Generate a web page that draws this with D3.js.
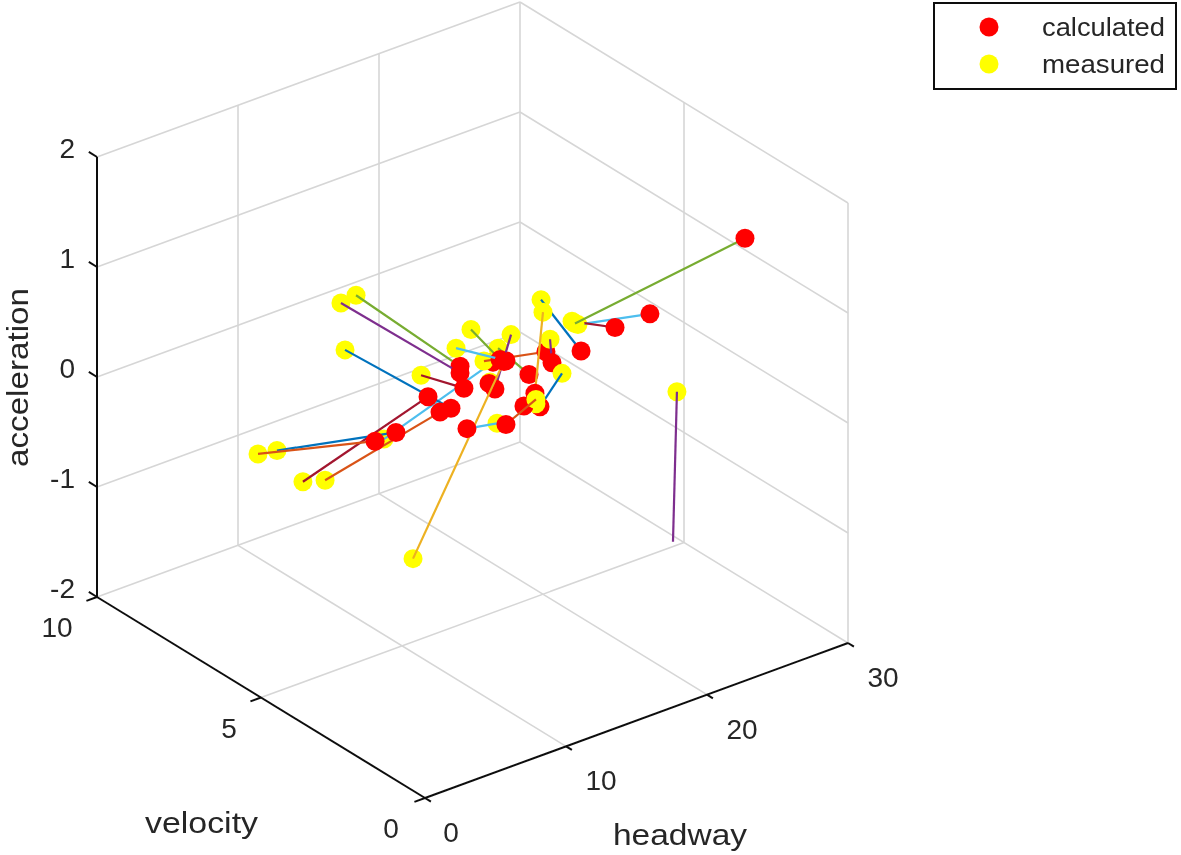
<!DOCTYPE html>
<html>
<head>
<meta charset="utf-8">
<script src="https://cdnjs.cloudflare.com/ajax/libs/d3/7.8.5/d3.min.js"></script>
<style>
    body { margin: 0; background: #fff; }
    svg { display: block; }
    text { font-family: "Liberation Sans", Arial, sans-serif; fill: #262626; }
</style>
</head>
<body>
<svg></svg>
<script>
// Values, one entry per measured/calculated pair
const measuredHeadway = [8.72, 11.16, 12.16, 6.74, 5.67, 5.96, 6.70, 5.30, 6.87, 3.46, 4.44, 11.59, 10.24, 9.18, 13.08, 6.13, 12.09, 12.88, 13.52, 14.37, 15.50, 15.08, 15.29, 13.02, 12.52, 12.52, 22.52];
const measuredVelocity = [5, 3, 3, 5, 5, 5, 3, 6, 6, 6, 7, 3, 3, 3, 3, 3, 3, 2, 2, 2, 2, 2, 2, 2, 2, 2, 2];
const measuredAccel = [-0.06, 0.90, 0.97, 1.34, 1.32, 0.88, 0.98, -0.47, -0.53, -0.10, -0.36, 0.69, 1.23, 1.11, 1.05, -0.66, 0.29, 1.56, 1.17, 0.82, 1.21, 1.26, 1.23, 1.44, 0.63, 0.67, 0.27];

const calculatedHeadway = [11.80, 13.23, 12.03, 11.79, 11.79, 8.82, 9.74, 9.52, 10.37, 9.57, 8.09, 11.52, 12.30, 12.72, 11.94, 12.58, 12.28, 15.72, 13.66, 12.81, 18.28, 18.13, 25.02, 12.45, 11.67, 12.72, 22.24];
const calculatedVelocity = [3, 2, 2, 4, 4, 3, 3, 4, 4, 5, 5, 3, 3, 3, 3, 3, 4, 2, 2, 2, 1, 2, 1, 2, 2, 3, 2];
const calculatedAccel = [0.86, 1.07, 0.92, 0.64, 0.58, 0.58, 0.72, 0.47, 0.29, -0.04, -0.05, 0.68, 0.86, 0.83, 0.61, 0.83, 0.05, 0.96, 0.95, 0.59, 1.36, 1.06, 1.73, 0.73, 0.65, 0.25, -1.08];

// Which colour of the line order each pair's connector uses
const pairSeries = [5, 1, 4, 4, 3, 0, 6, 6, 1, 0, 1, 0, 4, 5, 3, 2, 5, 0, 3, 0, 5, 6, 4, 2, 1, 1, 3];
// This pair has a connector but no red marker in the picture
const pairsWithoutCalculated = [26];

const headwayTicks = [0, 10, 20, 30];
const velocityTicks = [0, 5, 10];
const accelTicks = [-2, -1, 0, 1, 2];
const legendLabels = ["calculated", "measured"];

const lineColors = ["#0072BD", "#D95319", "#EDB120", "#7E2F8E", "#77AC30", "#4DBEEE", "#A2142F"];
const markerColors = ["#ff0000", "#ffff00"];

const width = 1181;
const height = 855;
const originX = 425;
const originY = 798;
const markerRadius = 9.5;

const svg = d3.select("svg").attr("width", width).attr("height", height);

// The reference is a slightly soft, upscaled bitmap
svg.append("defs").append("filter")
    .attr("id", "soft")
    .attr("filterUnits", "userSpaceOnUse")
    .attr("x", 0).attr("y", 0)
    .attr("width", width).attr("height", height)
    .append("feGaussianBlur")
    .attr("stdDeviation", 0.55);

const root = svg.append("g").attr("filter", "url(#soft)");

// Orthographic projection: each data axis adds a screen x and a screen y offset
const headwayX = d3.scaleLinear().domain([0, 30]).range([0, 423]);
const headwayY = d3.scaleLinear().domain([0, 30]).range([0, -155]);
const velocityX = d3.scaleLinear().domain([0, 10]).range([0, -328]);
const velocityY = d3.scaleLinear().domain([0, 10]).range([0, -201]);
const accelY = d3.scaleLinear().domain([-2, 2]).range([0, -440]);

function project(h, v, a) {
    return [
        originX + headwayX(h) + velocityX(v),
        originY + headwayY(h) + velocityY(v) + accelY(a)
    ];
}

const seriesColor = d3.scaleOrdinal().domain(d3.range(lineColors.length)).range(lineColors);
const line3d = d3.line();

const grid = root.append("g")
    .attr("fill", "none")
    .attr("stroke", "#d6d6d6")
    .attr("stroke-width", 1.6);

function gridLine(points) {
    grid.append("path").attr("d", line3d(points.map(p => project(p[0], p[1], p[2]))));
}

// Back wall at velocity 10 and side wall at headway 30, then the floor
headwayTicks.forEach(h => {
    if (h > 0) gridLine([[h, 10, -2], [h, 10, 2]]);
    if (h > 0 && h < 30) gridLine([[h, 0, -2], [h, 10, -2]]);
});
velocityTicks.forEach(v => {
    if (v < 10) gridLine([[30, v, -2], [30, v, 2]]);
    if (v > 0 && v < 10) gridLine([[0, v, -2], [30, v, -2]]);
});
accelTicks.forEach(a => {
    gridLine([[0, 10, a], [30, 10, a]]);
    gridLine([[30, 10, a], [30, 0, a]]);
});

// Axes
const axes = root.append("g")
    .attr("fill", "none")
    .attr("stroke", "#111")
    .attr("stroke-width", 2);

function axisLine(points) {
    axes.append("path").attr("d", line3d(points.map(p => project(p[0], p[1], p[2]))));
}

axisLine([[0, 0, -2], [30, 0, -2]]);
axisLine([[0, 0, -2], [0, 10, -2]]);
axisLine([[0, 10, -2], [0, 10, 2]]);

headwayTicks.forEach(h => axisLine([[h, 0, -2], [h, -0.18, -2]]));
velocityTicks.forEach(v => axisLine([[0, v, -2], [-0.75, v, -2]]));
accelTicks.forEach(a => axisLine([[0, 10, a], [0, 10.25, a]]));

const tickFont = 28;

function tickLabel(pos, dx, dy, txt) {
    root.append("text")
        .attr("x", pos[0] + dx)
        .attr("y", pos[1] + dy)
        .attr("text-anchor", "middle")
        .attr("font-size", tickFont)
        .text(txt);
}

headwayTicks.forEach(h => tickLabel(project(h, 0, -2), h === 0 ? 26 : 35, 44, h));
velocityTicks.forEach(v => tickLabel(project(0, v, -2), v === 10 ? -40 : (v === 0 ? -34 : -32), 40, v));
accelTicks.forEach(a => {
    root.append("text")
        .attr("x", project(0, 10, a)[0] - 22)
        .attr("y", project(0, 10, a)[1] + 1)
        .attr("text-anchor", "end")
        .attr("font-size", tickFont)
        .text(a);
});

// Pairs are stacked in order: measured marker, connector, calculated marker
const pairs = root.append("g");

measuredHeadway.forEach((h, i) => {
    const m = project(h, measuredVelocity[i], measuredAccel[i]);
    const c = project(calculatedHeadway[i], calculatedVelocity[i], calculatedAccel[i]);
    const pair = pairs.append("g");

    pair.append("circle")
        .attr("cx", m[0]).attr("cy", m[1]).attr("r", markerRadius)
        .attr("fill", markerColors[1]);

    pair.append("path")
        .attr("d", line3d([m, c]))
        .attr("fill", "none")
        .attr("stroke", seriesColor(pairSeries[i]))
        .attr("stroke-width", 2.2);

    if (!pairsWithoutCalculated.includes(i)) {
        pair.append("circle")
            .attr("cx", c[0]).attr("cy", c[1]).attr("r", markerRadius)
            .attr("fill", markerColors[0]);
    }
});

// Axis titles (the reference text is stretched sideways, hence textLength)
function stretchedText(parent, txt, size, len) {
    return parent.append("text")
        .attr("font-size", size)
        .attr("textLength", len)
        .attr("lengthAdjust", "spacingAndGlyphs")
        .text(txt);
}

stretchedText(root, "velocity", 30, 113).attr("x", 145).attr("y", 833);
stretchedText(root, "headway", 30, 134).attr("x", 613).attr("y", 845);
stretchedText(root, "acceleration", 30, 179).attr("transform", "translate(28,467) rotate(-90)");

// Legend
const legend = root.append("g");
legend.append("rect")
    .attr("x", 934).attr("y", 3).attr("width", 242).attr("height", 86)
    .attr("fill", "#fff").attr("stroke", "#111").attr("stroke-width", 2);

legendLabels.forEach((label, i) => {
    const y = 27 + i * 37;
    legend.append("circle")
        .attr("cx", 989).attr("cy", y).attr("r", markerRadius)
        .attr("fill", markerColors[i]);
    stretchedText(legend, label, 25, 123).attr("x", 1042).attr("y", y + 9);
});
</script>
</body>
</html>
